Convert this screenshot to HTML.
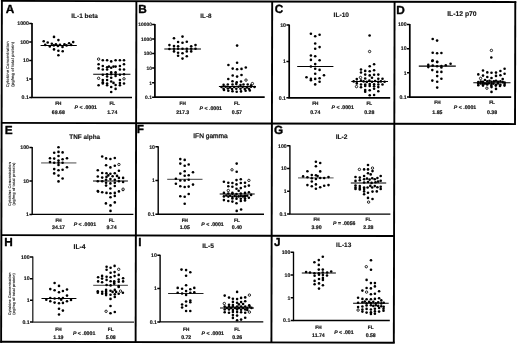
<!DOCTYPE html><html><head><meta charset="utf-8"><title>Cytokine concentration figure</title><style>html,body{margin:0;padding:0;background:#fff;width:520px;height:344px;overflow:hidden}svg{display:block;will-change:transform}text{font-family:"Liberation Sans",sans-serif;font-weight:bold;text-rendering:geometricPrecision}</style></head><body>
<svg width="520" height="344" viewBox="0 0 520 344">
<g transform="rotate(0.13 260 172)" stroke="#000" stroke-linecap="butt">
<line x1="0.55" y1="1.5" x2="515.85" y2="1.5" stroke-width="1.9"/>
<line x1="1.5" y1="0.55" x2="1.5" y2="343.35" stroke-width="1.9"/>
<line x1="0.55" y1="342.4" x2="395.15" y2="342.4" stroke-width="1.9"/>
<line x1="136" y1="1.5" x2="136" y2="342.4" stroke-width="1.9"/>
<line x1="271.8" y1="1.5" x2="271.8" y2="342.4" stroke-width="1.9"/>
<line x1="394.2" y1="1.5" x2="394.2" y2="342.4" stroke-width="1.9"/>
<line x1="514.9" y1="0.55" x2="514.9" y2="124.45" stroke-width="1.9"/>
<line x1="1.5" y1="123.5" x2="514.9" y2="123.5" stroke-width="1.9"/>
<line x1="1.5" y1="235.7" x2="394.2" y2="235.7" stroke-width="1.9"/>
</g>
<g><text x="5.75" y="12.8" font-size="11.8" fill="#000" stroke="#000" stroke-width="0.35" stroke-linejoin="round">A</text><text x="84.6" y="17.7" font-size="6.5" text-anchor="middle" fill="#111" stroke="#111" stroke-width="0.12" stroke-linejoin="round">IL-1 beta</text><path d="M32 23.1V97.5H132" fill="none" stroke="#000" stroke-width="1.7"/><text x="28.8" y="25.45" font-size="5.2" text-anchor="end" fill="#111" stroke="#111" stroke-width="0.15" stroke-linejoin="round">1000</text><text x="28.8" y="43.93" font-size="5.2" text-anchor="end" fill="#111" stroke="#111" stroke-width="0.15" stroke-linejoin="round">100</text><text x="28.8" y="62.4" font-size="5.2" text-anchor="end" fill="#111" stroke="#111" stroke-width="0.15" stroke-linejoin="round">10</text><text x="28.8" y="80.88" font-size="5.2" text-anchor="end" fill="#111" stroke="#111" stroke-width="0.15" stroke-linejoin="round">1</text><text x="28.8" y="99.35" font-size="5.2" text-anchor="end" fill="#111" stroke="#111" stroke-width="0.15" stroke-linejoin="round">0.1</text><path d="M29.2 23.6H32M29.2 42.08H32M29.2 60.55H32M29.2 79.03H32M29.2 97.5H32" stroke="#000" stroke-width="1.5"/><text transform="translate(58.3 104.8) scale(0.95 1)" font-size="4.9" text-anchor="middle" fill="#111" stroke="#111" stroke-width="0.22" stroke-linejoin="round">FH</text><text transform="translate(112.3 104.8) scale(0.95 1)" font-size="4.9" text-anchor="middle" fill="#111" stroke="#111" stroke-width="0.22" stroke-linejoin="round">FL</text><text x="58.3" y="114.1" font-size="5.2" text-anchor="middle" fill="#111" stroke="#111" stroke-width="0.2" stroke-linejoin="round">69.68</text><text x="112.3" y="114.1" font-size="5.2" text-anchor="middle" fill="#111" stroke="#111" stroke-width="0.2" stroke-linejoin="round">1.74</text><text x="85.8" y="109.2" font-size="5.2" text-anchor="middle" fill="#111" stroke="#111" stroke-width="0.2" stroke-linejoin="round"><tspan font-style="italic">P</tspan> &lt; .0001</text><path d="M40.6 45.4H76.8" stroke="#000" stroke-width="1.05"/><path d="M93.2 74.2H130.4" stroke="#000" stroke-width="1.05"/><circle cx="54" cy="36.9" r="1.3"/><circle cx="58.4" cy="40.1" r="1.3"/><circle cx="43.7" cy="41.3" r="1.3"/><circle cx="47.7" cy="42.5" r="1.3"/><circle cx="73.2" cy="42.1" r="1.3"/><circle cx="45.2" cy="44.9" r="1.3"/><circle cx="49.8" cy="46.4" r="1.3"/><circle cx="51.8" cy="43.8" r="1.3"/><circle cx="53.8" cy="45.4" r="1.3"/><circle cx="55.9" cy="44.3" r="1.3"/><circle cx="57.9" cy="45.9" r="1.3"/><circle cx="60" cy="44.9" r="1.3"/><circle cx="62.5" cy="46.9" r="1.3"/><circle cx="64.5" cy="44.3" r="1.3"/><circle cx="66.6" cy="45.4" r="1.3"/><circle cx="69.1" cy="43.3" r="1.3"/><circle cx="71.1" cy="44.9" r="1.3"/><circle cx="54" cy="49.4" r="1.3"/><circle cx="58.4" cy="50.7" r="1.3"/><circle cx="62.7" cy="51.3" r="1.3"/><circle cx="58.4" cy="55.3" r="1.3"/><circle cx="102.8" cy="60.2" r="1.3"/><circle cx="107.1" cy="60.2" r="1.3"/><circle cx="115.6" cy="60.2" r="1.3"/><circle cx="119.9" cy="60.2" r="1.3"/><circle cx="124" cy="60.2" r="1.3"/><circle cx="111.2" cy="61.4" r="1.3"/><circle cx="98.6" cy="64.3" r="1.3"/><circle cx="124" cy="64.3" r="1.3"/><circle cx="102.8" cy="66" r="1.3"/><circle cx="119.9" cy="66" r="1.3"/><circle cx="107.1" cy="67.2" r="1.3"/><circle cx="108.9" cy="66.6" r="1.3"/><circle cx="111.2" cy="67.8" r="1.3"/><circle cx="113.5" cy="66.6" r="1.3"/><circle cx="115.6" cy="66.6" r="1.3"/><circle cx="98.6" cy="68.4" r="1.3"/><circle cx="102.8" cy="69.5" r="1.3"/><circle cx="107.1" cy="69.5" r="1.3"/><circle cx="119.9" cy="69.5" r="1.3"/><circle cx="124" cy="69.5" r="1.3"/><circle cx="111.2" cy="72.4" r="1.3"/><circle cx="115.6" cy="72.2" r="1.3"/><circle cx="102.8" cy="74.8" r="1.3"/><circle cx="107.1" cy="74.2" r="1.3"/><circle cx="111.2" cy="74.2" r="1.3"/><circle cx="115.6" cy="74.2" r="1.3"/><circle cx="119.9" cy="74.8" r="1.3"/><circle cx="124" cy="74.2" r="1.3"/><circle cx="107.1" cy="76.5" r="1.3"/><circle cx="115.6" cy="76" r="1.3"/><circle cx="111.2" cy="77.7" r="1.3"/><circle cx="102.8" cy="80" r="1.3"/><circle cx="107.1" cy="80" r="1.3"/><circle cx="119.9" cy="80" r="1.3"/><circle cx="102.8" cy="82.3" r="1.3"/><circle cx="111.2" cy="81.5" r="1.3"/><circle cx="113.5" cy="82.9" r="1.3"/><circle cx="102.8" cy="83.5" r="1.3"/><circle cx="107.1" cy="83.5" r="1.3"/><circle cx="119.9" cy="83" r="1.3"/><circle cx="124" cy="83.5" r="1.3"/><circle cx="98.6" cy="85.2" r="1.3"/><circle cx="107.1" cy="85.2" r="1.3"/><circle cx="115.6" cy="85" r="1.3"/><circle cx="119.9" cy="85.2" r="1.3"/><circle cx="111.2" cy="87" r="1.3"/><circle cx="115.6" cy="88.9" r="1.3"/><circle cx="111.2" cy="92" r="1.3"/><circle cx="98.6" cy="59.1" r="1.2" fill="#fff" stroke="#000" stroke-width="0.85"/><circle cx="98.6" cy="78.3" r="1.2" fill="#fff" stroke="#000" stroke-width="0.85"/><circle cx="124" cy="78.8" r="1.2" fill="#fff" stroke="#000" stroke-width="0.85"/><text transform="translate(9.2 64.25) rotate(-90)" font-size="4.1" text-anchor="middle" fill="#333" stroke="#333" stroke-width="0.06"><tspan x="0" y="0">Cytokine Concentration</tspan><tspan x="0" y="4.8">(pg/mg of total protein)</tspan></text></g>
<g><text x="138.16" y="13.2" font-size="11.8" fill="#000" stroke="#000" stroke-width="0.35" stroke-linejoin="round">B</text><text x="205.9" y="18.2" font-size="6.3" text-anchor="middle" fill="#111" stroke="#111" stroke-width="0.12" stroke-linejoin="round">IL-8</text><path d="M154.9 24V97.2H264.7" fill="none" stroke="#000" stroke-width="1.7"/><text x="151.9" y="26.35" font-size="4.9" text-anchor="end" fill="#111" stroke="#111" stroke-width="0.15" stroke-linejoin="round">10000</text><text x="151.9" y="40.89" font-size="4.9" text-anchor="end" fill="#111" stroke="#111" stroke-width="0.15" stroke-linejoin="round">1000</text><text x="151.9" y="55.43" font-size="4.9" text-anchor="end" fill="#111" stroke="#111" stroke-width="0.15" stroke-linejoin="round">100</text><text x="151.9" y="69.97" font-size="4.9" text-anchor="end" fill="#111" stroke="#111" stroke-width="0.15" stroke-linejoin="round">10</text><text x="151.9" y="84.51" font-size="4.9" text-anchor="end" fill="#111" stroke="#111" stroke-width="0.15" stroke-linejoin="round">1</text><text x="151.9" y="99.05" font-size="4.9" text-anchor="end" fill="#111" stroke="#111" stroke-width="0.15" stroke-linejoin="round">0.1</text><path d="M152.1 24.5H154.9M152.1 39.04H154.9M152.1 53.58H154.9M152.1 68.12H154.9M152.1 82.66H154.9M152.1 97.2H154.9" stroke="#000" stroke-width="1.5"/><text transform="translate(182.7 104.8) scale(0.95 1)" font-size="4.9" text-anchor="middle" fill="#111" stroke="#111" stroke-width="0.22" stroke-linejoin="round">FH</text><text transform="translate(236.9 104.8) scale(0.95 1)" font-size="4.9" text-anchor="middle" fill="#111" stroke="#111" stroke-width="0.22" stroke-linejoin="round">FL</text><text x="182.7" y="114.1" font-size="5.2" text-anchor="middle" fill="#111" stroke="#111" stroke-width="0.2" stroke-linejoin="round">217.3</text><text x="236.9" y="114.1" font-size="5.2" text-anchor="middle" fill="#111" stroke="#111" stroke-width="0.2" stroke-linejoin="round">0.57</text><text x="210.8" y="109.5" font-size="5.2" text-anchor="middle" fill="#111" stroke="#111" stroke-width="0.2" stroke-linejoin="round"><tspan font-style="italic">P</tspan> &lt; .0001</text><path d="M164.3 48.9H201" stroke="#000" stroke-width="1.05"/><path d="M218.9 86.4H256" stroke="#000" stroke-width="1.05"/><circle cx="174" cy="38.3" r="1.3"/><circle cx="182.5" cy="36.6" r="1.3"/><circle cx="178.1" cy="42" r="1.3"/><circle cx="182.5" cy="42.7" r="1.3"/><circle cx="186.8" cy="41.7" r="1.3"/><circle cx="169.4" cy="45.1" r="1.3"/><circle cx="174" cy="46" r="1.3"/><circle cx="178.1" cy="46.3" r="1.3"/><circle cx="191.2" cy="46.3" r="1.3"/><circle cx="195.5" cy="45.1" r="1.3"/><circle cx="169.4" cy="49" r="1.3"/><circle cx="174" cy="48.8" r="1.3"/><circle cx="178.1" cy="48.8" r="1.3"/><circle cx="182.5" cy="48.8" r="1.3"/><circle cx="186.8" cy="48.8" r="1.3"/><circle cx="191.2" cy="48.8" r="1.3"/><circle cx="195.5" cy="48.8" r="1.3"/><circle cx="174" cy="51.4" r="1.3"/><circle cx="178.1" cy="52.8" r="1.3"/><circle cx="182.5" cy="53.3" r="1.3"/><circle cx="186.8" cy="51.4" r="1.3"/><circle cx="191.2" cy="51.4" r="1.3"/><circle cx="178.1" cy="55.7" r="1.3"/><circle cx="186.8" cy="56.2" r="1.3"/><circle cx="182.5" cy="58.6" r="1.3"/><circle cx="237.1" cy="45.6" r="1.3"/><circle cx="237.1" cy="62.8" r="1.3"/><circle cx="228.4" cy="65" r="1.3"/><circle cx="245.8" cy="67.5" r="1.3"/><circle cx="232.7" cy="68.6" r="1.3"/><circle cx="237.1" cy="69.2" r="1.3"/><circle cx="241.5" cy="68.9" r="1.3"/><circle cx="232.7" cy="75.5" r="1.3"/><circle cx="237.1" cy="76.6" r="1.3"/><circle cx="241.5" cy="75" r="1.3"/><circle cx="228.3" cy="79" r="1.3"/><circle cx="232.5" cy="81.2" r="1.3"/><circle cx="236.7" cy="82.3" r="1.3"/><circle cx="241" cy="81.5" r="1.3"/><circle cx="223.6" cy="84.9" r="1.3"/><circle cx="227.8" cy="84.5" r="1.3"/><circle cx="232.5" cy="84.5" r="1.3"/><circle cx="236.3" cy="84.1" r="1.3"/><circle cx="240.5" cy="85.1" r="1.3"/><circle cx="243.5" cy="84.5" r="1.3"/><circle cx="247.7" cy="84.5" r="1.3"/><circle cx="251.1" cy="85.3" r="1.3"/><circle cx="221.5" cy="87" r="1.3"/><circle cx="225.7" cy="86.8" r="1.3"/><circle cx="230" cy="87.4" r="1.3"/><circle cx="234.2" cy="87" r="1.3"/><circle cx="238.4" cy="86.8" r="1.3"/><circle cx="242.6" cy="87" r="1.3"/><circle cx="246.9" cy="87.4" r="1.3"/><circle cx="251.1" cy="86.8" r="1.3"/><circle cx="254.5" cy="87" r="1.3"/><circle cx="223.6" cy="88.7" r="1.3"/><circle cx="227.8" cy="88.5" r="1.3"/><circle cx="232.1" cy="89.1" r="1.3"/><circle cx="236.3" cy="88.7" r="1.3"/><circle cx="240.5" cy="88.7" r="1.3"/><circle cx="244.8" cy="88.9" r="1.3"/><circle cx="249" cy="88.7" r="1.3"/><circle cx="224" cy="90" r="1.3"/><circle cx="228.3" cy="90.8" r="1.3"/><circle cx="232.5" cy="91.2" r="1.3"/><circle cx="236.7" cy="91.7" r="1.3"/><circle cx="241" cy="91.4" r="1.3"/><circle cx="245.6" cy="90.8" r="1.3"/><circle cx="249.8" cy="90.4" r="1.3"/><circle cx="246" cy="80.1" r="1.2" fill="#fff" stroke="#000" stroke-width="0.85"/><circle cx="252.4" cy="83.6" r="1.2" fill="#fff" stroke="#000" stroke-width="0.85"/></g>
<g><text x="274.67" y="12.8" font-size="11.8" fill="#000" stroke="#000" stroke-width="0.35" stroke-linejoin="round">C</text><text x="341.3" y="17.1" font-size="6.6" text-anchor="middle" fill="#111" stroke="#111" stroke-width="0.12" stroke-linejoin="round">IL-10</text><path d="M289.2 24.5V97.8H390.2" fill="none" stroke="#000" stroke-width="1.7"/><text x="286" y="26.85" font-size="5.2" text-anchor="end" fill="#111" stroke="#111" stroke-width="0.15" stroke-linejoin="round">10</text><text x="286" y="63.25" font-size="5.2" text-anchor="end" fill="#111" stroke="#111" stroke-width="0.15" stroke-linejoin="round">1</text><text x="286" y="99.65" font-size="5.2" text-anchor="end" fill="#111" stroke="#111" stroke-width="0.15" stroke-linejoin="round">0.1</text><path d="M286.4 25H289.2M286.4 61.4H289.2M286.4 97.8H289.2" stroke="#000" stroke-width="1.5"/><text transform="translate(315.3 104.8) scale(0.95 1)" font-size="4.9" text-anchor="middle" fill="#111" stroke="#111" stroke-width="0.22" stroke-linejoin="round">FH</text><text transform="translate(369.3 104.8) scale(0.95 1)" font-size="4.9" text-anchor="middle" fill="#111" stroke="#111" stroke-width="0.22" stroke-linejoin="round">FL</text><text x="315.3" y="114.1" font-size="5.2" text-anchor="middle" fill="#111" stroke="#111" stroke-width="0.2" stroke-linejoin="round">0.74</text><text x="369.3" y="114.1" font-size="5.2" text-anchor="middle" fill="#111" stroke="#111" stroke-width="0.2" stroke-linejoin="round">0.28</text><text x="342.7" y="109.2" font-size="5.2" text-anchor="middle" fill="#111" stroke="#111" stroke-width="0.2" stroke-linejoin="round"><tspan font-style="italic">P</tspan> &lt; .0001</text><path d="M297.2 66.4H333.4" stroke="#000" stroke-width="1.05"/><path d="M351.3 81.4H388" stroke="#000" stroke-width="1.05"/><circle cx="310.9" cy="33.7" r="1.3"/><circle cx="315.2" cy="36.3" r="1.3"/><circle cx="319.6" cy="34.7" r="1.3"/><circle cx="315.2" cy="43.5" r="1.3"/><circle cx="315.2" cy="48.7" r="1.3"/><circle cx="319.6" cy="47.1" r="1.3"/><circle cx="310.9" cy="55.5" r="1.3"/><circle cx="315.2" cy="56.3" r="1.3"/><circle cx="310.9" cy="59.9" r="1.3"/><circle cx="319.6" cy="60.2" r="1.3"/><circle cx="315.2" cy="64.1" r="1.3"/><circle cx="310.9" cy="66.5" r="1.3"/><circle cx="315.2" cy="68.7" r="1.3"/><circle cx="319.6" cy="69.9" r="1.3"/><circle cx="315.2" cy="73.8" r="1.3"/><circle cx="324" cy="75.3" r="1.3"/><circle cx="306.5" cy="77.2" r="1.3"/><circle cx="310.9" cy="78.9" r="1.3"/><circle cx="310.9" cy="80.3" r="1.3"/><circle cx="315.2" cy="78.9" r="1.3"/><circle cx="319.6" cy="78.2" r="1.3"/><circle cx="319.6" cy="81.8" r="1.3"/><circle cx="315.2" cy="84.4" r="1.3"/><circle cx="369.6" cy="35.5" r="1.3"/><circle cx="374.1" cy="64.3" r="1.3"/><circle cx="369.7" cy="66.2" r="1.3"/><circle cx="361" cy="69.5" r="1.3"/><circle cx="361" cy="72.5" r="1.3"/><circle cx="365.2" cy="70.9" r="1.3"/><circle cx="369.7" cy="71.2" r="1.3"/><circle cx="374.1" cy="70.2" r="1.3"/><circle cx="365.2" cy="74.6" r="1.3"/><circle cx="369.7" cy="75.4" r="1.3"/><circle cx="374.1" cy="74.8" r="1.3"/><circle cx="378.3" cy="74.6" r="1.3"/><circle cx="356.8" cy="79" r="1.3"/><circle cx="365.2" cy="78.5" r="1.3"/><circle cx="372" cy="77.7" r="1.3"/><circle cx="378.3" cy="78.8" r="1.3"/><circle cx="382.5" cy="78.8" r="1.3"/><circle cx="353.7" cy="81.4" r="1.3"/><circle cx="356.8" cy="81.7" r="1.3"/><circle cx="361" cy="80.6" r="1.3"/><circle cx="363.6" cy="81.4" r="1.3"/><circle cx="366.8" cy="81.9" r="1.3"/><circle cx="369.4" cy="80.6" r="1.3"/><circle cx="372" cy="81.7" r="1.3"/><circle cx="375.1" cy="81" r="1.3"/><circle cx="378.3" cy="81.9" r="1.3"/><circle cx="380.9" cy="81.4" r="1.3"/><circle cx="384.6" cy="81.7" r="1.3"/><circle cx="356.8" cy="83.5" r="1.3"/><circle cx="361" cy="84.5" r="1.3"/><circle cx="365.2" cy="84.5" r="1.3"/><circle cx="369.7" cy="84" r="1.3"/><circle cx="374.1" cy="84.2" r="1.3"/><circle cx="378.3" cy="84.5" r="1.3"/><circle cx="382.5" cy="84.5" r="1.3"/><circle cx="361" cy="87.3" r="1.3"/><circle cx="365.2" cy="85.9" r="1.3"/><circle cx="369.7" cy="85.9" r="1.3"/><circle cx="374.1" cy="86.3" r="1.3"/><circle cx="378.3" cy="87.1" r="1.3"/><circle cx="365.2" cy="90.1" r="1.3"/><circle cx="365.2" cy="91.8" r="1.3"/><circle cx="369.7" cy="90.3" r="1.3"/><circle cx="374.1" cy="88.7" r="1.3"/><circle cx="378.3" cy="91.3" r="1.3"/><circle cx="369.7" cy="95.3" r="1.3"/><circle cx="374.1" cy="95" r="1.3"/><circle cx="369.6" cy="51.5" r="1.2" fill="#fff" stroke="#000" stroke-width="0.85"/><circle cx="360.5" cy="77.5" r="1.2" fill="#fff" stroke="#000" stroke-width="0.85"/><circle cx="356.5" cy="86.6" r="1.2" fill="#fff" stroke="#000" stroke-width="0.85"/></g>
<g><text x="396.36" y="13.5" font-size="11.8" fill="#000" stroke="#000" stroke-width="0.35" stroke-linejoin="round">D</text><text x="461.9" y="16" font-size="6.8" text-anchor="middle" fill="#111" stroke="#111" stroke-width="0.12" stroke-linejoin="round">IL-12 p70</text><path d="M409.8 23.9V97.1H511.2" fill="none" stroke="#000" stroke-width="1.7"/><text x="406.6" y="26.25" font-size="5.2" text-anchor="end" fill="#111" stroke="#111" stroke-width="0.15" stroke-linejoin="round">100</text><text x="406.6" y="50.48" font-size="5.2" text-anchor="end" fill="#111" stroke="#111" stroke-width="0.15" stroke-linejoin="round">10</text><text x="406.6" y="74.72" font-size="5.2" text-anchor="end" fill="#111" stroke="#111" stroke-width="0.15" stroke-linejoin="round">1</text><text x="406.6" y="98.95" font-size="5.2" text-anchor="end" fill="#111" stroke="#111" stroke-width="0.15" stroke-linejoin="round">0.1</text><path d="M407 24.4H409.8M407 48.63H409.8M407 72.87H409.8M407 97.1H409.8" stroke="#000" stroke-width="1.5"/><text transform="translate(437.4 104.3) scale(0.95 1)" font-size="4.9" text-anchor="middle" fill="#111" stroke="#111" stroke-width="0.22" stroke-linejoin="round">FH</text><text transform="translate(492 104.3) scale(0.95 1)" font-size="4.9" text-anchor="middle" fill="#111" stroke="#111" stroke-width="0.22" stroke-linejoin="round">FL</text><text x="437.4" y="113.5" font-size="5.2" text-anchor="middle" fill="#111" stroke="#111" stroke-width="0.2" stroke-linejoin="round">1.85</text><text x="492" y="113.5" font-size="5.2" text-anchor="middle" fill="#111" stroke="#111" stroke-width="0.2" stroke-linejoin="round">0.38</text><text x="465" y="108.8" font-size="5.2" text-anchor="middle" fill="#111" stroke="#111" stroke-width="0.2" stroke-linejoin="round"><tspan font-style="italic">P</tspan> &lt; .0001</text><path d="M418.8 66.1H455.8" stroke="#000" stroke-width="1.05"/><path d="M473.3 82.8H510.5" stroke="#000" stroke-width="1.05"/><circle cx="432.7" cy="39" r="1.3"/><circle cx="437.1" cy="40.6" r="1.3"/><circle cx="432.7" cy="52.8" r="1.3"/><circle cx="437.1" cy="53.3" r="1.3"/><circle cx="441.4" cy="53" r="1.3"/><circle cx="432.7" cy="60.5" r="1.3"/><circle cx="437.1" cy="61.7" r="1.3"/><circle cx="432.3" cy="60.9" r="1.3"/><circle cx="437.2" cy="62.1" r="1.3"/><circle cx="428.3" cy="64.9" r="1.3"/><circle cx="428.3" cy="67.1" r="1.3"/><circle cx="432.7" cy="65.6" r="1.3"/><circle cx="437.1" cy="66.3" r="1.3"/><circle cx="441.4" cy="66" r="1.3"/><circle cx="441.4" cy="67.5" r="1.3"/><circle cx="445.8" cy="65.2" r="1.3"/><circle cx="450.6" cy="63.8" r="1.3"/><circle cx="432.3" cy="70.1" r="1.3"/><circle cx="437.2" cy="71.9" r="1.3"/><circle cx="441.4" cy="71.9" r="1.3"/><circle cx="437.2" cy="76.1" r="1.3"/><circle cx="441.4" cy="78.8" r="1.3"/><circle cx="432.3" cy="80.6" r="1.3"/><circle cx="437.2" cy="81.8" r="1.3"/><circle cx="437.2" cy="87.6" r="1.3"/><circle cx="491.3" cy="57.5" r="1.3"/><circle cx="504.6" cy="68.7" r="1.3"/><circle cx="483" cy="70.5" r="1.3"/><circle cx="487.3" cy="72.4" r="1.3"/><circle cx="491.5" cy="72.8" r="1.3"/><circle cx="496" cy="72.6" r="1.3"/><circle cx="500.4" cy="71" r="1.3"/><circle cx="478.3" cy="74.4" r="1.3"/><circle cx="483" cy="75.6" r="1.3"/><circle cx="487.3" cy="77" r="1.3"/><circle cx="491.5" cy="78" r="1.3"/><circle cx="496" cy="75.9" r="1.3"/><circle cx="500.4" cy="75.3" r="1.3"/><circle cx="504.6" cy="73.8" r="1.3"/><circle cx="485" cy="80" r="1.3"/><circle cx="502.7" cy="79.1" r="1.3"/><circle cx="478.3" cy="82.1" r="1.3"/><circle cx="480.8" cy="81.5" r="1.3"/><circle cx="483" cy="81.9" r="1.3"/><circle cx="487.3" cy="81.2" r="1.3"/><circle cx="489.5" cy="80.7" r="1.3"/><circle cx="491.5" cy="81.7" r="1.3"/><circle cx="493.9" cy="81.2" r="1.3"/><circle cx="496" cy="80.7" r="1.3"/><circle cx="498" cy="81.9" r="1.3"/><circle cx="500.4" cy="81.2" r="1.3"/><circle cx="502.7" cy="82.1" r="1.3"/><circle cx="504.6" cy="82.6" r="1.3"/><circle cx="478.3" cy="85.2" r="1.3"/><circle cx="483" cy="85.6" r="1.3"/><circle cx="487.3" cy="84.5" r="1.3"/><circle cx="491.5" cy="84" r="1.3"/><circle cx="496" cy="84.9" r="1.3"/><circle cx="500.4" cy="84.7" r="1.3"/><circle cx="504.6" cy="84" r="1.3"/><circle cx="480.5" cy="83.4" r="1.3"/><circle cx="484.8" cy="83.6" r="1.3"/><circle cx="489" cy="83.2" r="1.3"/><circle cx="493.5" cy="83.6" r="1.3"/><circle cx="498" cy="83.4" r="1.3"/><circle cx="478.2" cy="83.6" r="1.3"/><circle cx="482.7" cy="83.9" r="1.3"/><circle cx="486.8" cy="83.9" r="1.3"/><circle cx="491.3" cy="85.6" r="1.3"/><circle cx="495.8" cy="85.6" r="1.3"/><circle cx="500" cy="85.9" r="1.3"/><circle cx="504.5" cy="85.6" r="1.3"/><circle cx="491.5" cy="87.1" r="1.3"/><circle cx="496" cy="88.9" r="1.3"/><circle cx="491.5" cy="91.9" r="1.3"/><circle cx="491.4" cy="50.4" r="1.2" fill="#fff" stroke="#000" stroke-width="0.85"/><circle cx="480.6" cy="78.4" r="1.2" fill="#fff" stroke="#000" stroke-width="0.85"/><circle cx="486.9" cy="88.2" r="1.2" fill="#fff" stroke="#000" stroke-width="0.85"/></g>
<g><text x="4.66" y="133.6" font-size="11.8" fill="#000" stroke="#000" stroke-width="0.35" stroke-linejoin="round">E</text><text x="84.7" y="139.4" font-size="6.4" text-anchor="middle" fill="#111" stroke="#111" stroke-width="0.12" stroke-linejoin="round">TNF alpha</text><path d="M32.2 147.1V214.4H133.4" fill="none" stroke="#000" stroke-width="1.4"/><text x="29" y="149.45" font-size="5.2" text-anchor="end" fill="#111" stroke="#111" stroke-width="0.15" stroke-linejoin="round">100</text><text x="29" y="182.85" font-size="5.2" text-anchor="end" fill="#111" stroke="#111" stroke-width="0.15" stroke-linejoin="round">10</text><text x="29" y="216.25" font-size="5.2" text-anchor="end" fill="#111" stroke="#111" stroke-width="0.15" stroke-linejoin="round">1</text><path d="M29.4 147.6H32.2M29.4 181H32.2M29.4 214.4H32.2" stroke="#000" stroke-width="1.5"/><text transform="translate(58.5 221.7) scale(0.95 1)" font-size="4.9" text-anchor="middle" fill="#111" stroke="#111" stroke-width="0.22" stroke-linejoin="round">FH</text><text transform="translate(111.6 221.7) scale(0.95 1)" font-size="4.9" text-anchor="middle" fill="#111" stroke="#111" stroke-width="0.22" stroke-linejoin="round">FL</text><text x="58.5" y="229" font-size="5.2" text-anchor="middle" fill="#111" stroke="#111" stroke-width="0.2" stroke-linejoin="round">34.17</text><text x="111.6" y="229" font-size="5.2" text-anchor="middle" fill="#111" stroke="#111" stroke-width="0.2" stroke-linejoin="round">9.74</text><text x="84.9" y="226.4" font-size="5.2" text-anchor="middle" fill="#111" stroke="#111" stroke-width="0.2" stroke-linejoin="round"><tspan font-style="italic">P</tspan> &lt; .0001</text><path d="M41.1 162.9H76.4" stroke="#999" stroke-width="1.6"/><path d="M93 181H127.9" stroke="#000" stroke-width="1.05"/><circle cx="58.5" cy="147.3" r="1.3"/><circle cx="54.2" cy="152.8" r="1.3"/><circle cx="58.5" cy="151.9" r="1.3"/><circle cx="62.6" cy="152.4" r="1.3"/><circle cx="58.5" cy="156" r="1.3"/><circle cx="50" cy="158.2" r="1.3"/><circle cx="54.2" cy="158.6" r="1.3"/><circle cx="62.6" cy="159.2" r="1.3"/><circle cx="67" cy="158.2" r="1.3"/><circle cx="50" cy="162.1" r="1.3"/><circle cx="54.2" cy="162.8" r="1.3"/><circle cx="58.5" cy="160.6" r="1.3"/><circle cx="58.5" cy="162.8" r="1.3"/><circle cx="62.6" cy="162.8" r="1.3"/><circle cx="58.5" cy="165" r="1.3"/><circle cx="67" cy="167.3" r="1.3"/><circle cx="54.2" cy="169.1" r="1.3"/><circle cx="58.5" cy="170.2" r="1.3"/><circle cx="62.6" cy="169.8" r="1.3"/><circle cx="54.2" cy="173.4" r="1.3"/><circle cx="58.5" cy="175.6" r="1.3"/><circle cx="62.6" cy="178.5" r="1.3"/><circle cx="58.5" cy="181.4" r="1.3"/><circle cx="102.2" cy="156.5" r="1.3"/><circle cx="106.1" cy="158.4" r="1.3"/><circle cx="110.4" cy="159" r="1.3"/><circle cx="114.8" cy="158" r="1.3"/><circle cx="106.1" cy="165.3" r="1.3"/><circle cx="110.4" cy="167.4" r="1.3"/><circle cx="114.8" cy="165.7" r="1.3"/><circle cx="97.8" cy="170.3" r="1.3"/><circle cx="102.2" cy="173" r="1.3"/><circle cx="106.5" cy="173.3" r="1.3"/><circle cx="110.4" cy="173.7" r="1.3"/><circle cx="114.8" cy="173.3" r="1.3"/><circle cx="118.9" cy="170.8" r="1.3"/><circle cx="97.8" cy="176.5" r="1.3"/><circle cx="102.2" cy="177.6" r="1.3"/><circle cx="106.5" cy="176.9" r="1.3"/><circle cx="108.3" cy="175.4" r="1.3"/><circle cx="112.6" cy="176.2" r="1.3"/><circle cx="117" cy="175.9" r="1.3"/><circle cx="118.9" cy="177.9" r="1.3"/><circle cx="123.1" cy="177.9" r="1.3"/><circle cx="97.8" cy="181.2" r="1.3"/><circle cx="102.2" cy="181.2" r="1.3"/><circle cx="106.1" cy="179.8" r="1.3"/><circle cx="110.4" cy="179.1" r="1.3"/><circle cx="114.8" cy="179.8" r="1.3"/><circle cx="118.9" cy="181.2" r="1.3"/><circle cx="123.1" cy="182" r="1.3"/><circle cx="106.1" cy="182.7" r="1.3"/><circle cx="110.4" cy="183.4" r="1.3"/><circle cx="114.8" cy="182.7" r="1.3"/><circle cx="106.1" cy="185.6" r="1.3"/><circle cx="110.4" cy="188.5" r="1.3"/><circle cx="114.8" cy="186" r="1.3"/><circle cx="97.8" cy="191" r="1.3"/><circle cx="102.2" cy="192.2" r="1.3"/><circle cx="106.5" cy="192.9" r="1.3"/><circle cx="110.4" cy="193.3" r="1.3"/><circle cx="114.8" cy="192.9" r="1.3"/><circle cx="118.9" cy="191.4" r="1.3"/><circle cx="123" cy="190" r="1.3"/><circle cx="98.1" cy="191.6" r="1.3"/><circle cx="114.8" cy="195.9" r="1.3"/><circle cx="110.5" cy="197.2" r="1.3"/><circle cx="105.9" cy="203.4" r="1.3"/><circle cx="110.5" cy="205.4" r="1.3"/><circle cx="114.8" cy="202.4" r="1.3"/><circle cx="110.5" cy="210.9" r="1.3"/><circle cx="118.9" cy="164.5" r="1.2" fill="#fff" stroke="#000" stroke-width="0.85"/><circle cx="123.1" cy="189.2" r="1.2" fill="#fff" stroke="#000" stroke-width="0.85"/><text transform="translate(10.9 184.1) rotate(-90)" font-size="3.9" text-anchor="middle" fill="#333" stroke="#333" stroke-width="0.06"><tspan x="0" y="0">Cytokine Concentration</tspan><tspan x="0" y="4.56">(pg/mg of total protein)</tspan></text></g>
<g><text x="136.86" y="133.3" font-size="11.8" fill="#000" stroke="#000" stroke-width="0.35" stroke-linejoin="round">F</text><text x="210.5" y="138.4" font-size="6.6" text-anchor="middle" fill="#111" stroke="#111" stroke-width="0.3" stroke-linejoin="round"><tspan font-weight="normal">IFN gamma</tspan></text><path d="M158.2 146.2V214.3H264" fill="none" stroke="#000" stroke-width="1.4"/><text x="155" y="148.55" font-size="5.2" text-anchor="end" fill="#111" stroke="#111" stroke-width="0.15" stroke-linejoin="round">10</text><text x="155" y="182.35" font-size="5.2" text-anchor="end" fill="#111" stroke="#111" stroke-width="0.15" stroke-linejoin="round">1</text><text x="155" y="216.15" font-size="5.2" text-anchor="end" fill="#111" stroke="#111" stroke-width="0.15" stroke-linejoin="round">0.1</text><path d="M155.4 146.7H158.2M155.4 180.5H158.2M155.4 214.3H158.2" stroke="#000" stroke-width="1.5"/><text transform="translate(184.8 221.5) scale(0.95 1)" font-size="4.9" text-anchor="middle" fill="#111" stroke="#111" stroke-width="0.22" stroke-linejoin="round">FH</text><text transform="translate(236.9 221.5) scale(0.95 1)" font-size="4.9" text-anchor="middle" fill="#111" stroke="#111" stroke-width="0.22" stroke-linejoin="round">FL</text><text x="184.8" y="229.2" font-size="5.2" text-anchor="middle" fill="#111" stroke="#111" stroke-width="0.2" stroke-linejoin="round">1.05</text><text x="236.9" y="229.2" font-size="5.2" text-anchor="middle" fill="#111" stroke="#111" stroke-width="0.2" stroke-linejoin="round">0.40</text><text x="212.5" y="226" font-size="5.2" text-anchor="middle" fill="#111" stroke="#111" stroke-width="0.2" stroke-linejoin="round"><tspan font-style="italic">P</tspan> &lt; .0001</text><path d="M167.2 179.3H202.5" stroke="#666" stroke-width="1.3"/><path d="M219.7 193.9H254.7" stroke="#000" stroke-width="1.05"/><circle cx="180.3" cy="159.1" r="1.3"/><circle cx="184.7" cy="159.9" r="1.3"/><circle cx="180.3" cy="163.6" r="1.3"/><circle cx="184.7" cy="165.7" r="1.3"/><circle cx="188.7" cy="164.5" r="1.3"/><circle cx="184.7" cy="171.3" r="1.3"/><circle cx="193" cy="172.3" r="1.3"/><circle cx="180.3" cy="173.6" r="1.3"/><circle cx="184.7" cy="175.8" r="1.3"/><circle cx="188.7" cy="175.3" r="1.3"/><circle cx="175.9" cy="178.8" r="1.3"/><circle cx="180.3" cy="180.5" r="1.3"/><circle cx="184.7" cy="180.5" r="1.3"/><circle cx="188.7" cy="179.7" r="1.3"/><circle cx="175.9" cy="183.7" r="1.3"/><circle cx="193" cy="184.6" r="1.3"/><circle cx="180.3" cy="186.3" r="1.3"/><circle cx="184.7" cy="187" r="1.3"/><circle cx="188.7" cy="186.6" r="1.3"/><circle cx="180.3" cy="196.2" r="1.3"/><circle cx="184.7" cy="196.8" r="1.3"/><circle cx="188.7" cy="194" r="1.3"/><circle cx="184.7" cy="203.8" r="1.3"/><circle cx="236.7" cy="163.6" r="1.3"/><circle cx="236.7" cy="171.7" r="1.3"/><circle cx="236.5" cy="180.1" r="1.3"/><circle cx="240.8" cy="179.2" r="1.3"/><circle cx="223.9" cy="181.8" r="1.3"/><circle cx="228.3" cy="182.7" r="1.3"/><circle cx="232.4" cy="183" r="1.3"/><circle cx="240.8" cy="183" r="1.3"/><circle cx="245" cy="182.7" r="1.3"/><circle cx="236.5" cy="184.4" r="1.3"/><circle cx="228.3" cy="186.2" r="1.3"/><circle cx="232.4" cy="186.8" r="1.3"/><circle cx="245" cy="186.5" r="1.3"/><circle cx="248.9" cy="185.6" r="1.3"/><circle cx="236.5" cy="188.8" r="1.3"/><circle cx="238.7" cy="190.7" r="1.3"/><circle cx="240.8" cy="188.1" r="1.3"/><circle cx="223.9" cy="192.9" r="1.3"/><circle cx="228.3" cy="193.5" r="1.3"/><circle cx="232.4" cy="192.9" r="1.3"/><circle cx="232.4" cy="193.8" r="1.3"/><circle cx="236.5" cy="194" r="1.3"/><circle cx="240.8" cy="193.5" r="1.3"/><circle cx="245" cy="192.9" r="1.3"/><circle cx="248.9" cy="192.3" r="1.3"/><circle cx="223.9" cy="196.4" r="1.3"/><circle cx="226.3" cy="195.5" r="1.3"/><circle cx="228.3" cy="196.6" r="1.3"/><circle cx="230.2" cy="195.7" r="1.3"/><circle cx="232.4" cy="196.8" r="1.3"/><circle cx="234.6" cy="195.9" r="1.3"/><circle cx="236.5" cy="196.6" r="1.3"/><circle cx="238.7" cy="196.4" r="1.3"/><circle cx="240.8" cy="195.9" r="1.3"/><circle cx="243" cy="196.4" r="1.3"/><circle cx="245" cy="195.9" r="1.3"/><circle cx="247.2" cy="195.7" r="1.3"/><circle cx="251.1" cy="194.9" r="1.3"/><circle cx="232.4" cy="198.4" r="1.3"/><circle cx="236.5" cy="198.7" r="1.3"/><circle cx="240.8" cy="198.7" r="1.3"/><circle cx="245" cy="198.4" r="1.3"/><circle cx="248.9" cy="197.8" r="1.3"/><circle cx="223.9" cy="200.1" r="1.3"/><circle cx="228.3" cy="201" r="1.3"/><circle cx="232.4" cy="201.6" r="1.3"/><circle cx="240.8" cy="201" r="1.3"/><circle cx="245" cy="200.4" r="1.3"/><circle cx="236.5" cy="203.3" r="1.3"/><circle cx="236.7" cy="210.9" r="1.3"/><circle cx="241.1" cy="209.5" r="1.3"/><circle cx="232" cy="169.8" r="1.2" fill="#fff" stroke="#000" stroke-width="0.85"/><circle cx="248.9" cy="180.4" r="1.2" fill="#fff" stroke="#000" stroke-width="0.85"/><circle cx="228.3" cy="190.5" r="1.2" fill="#fff" stroke="#000" stroke-width="0.85"/></g>
<g><text x="274.07" y="133.6" font-size="11.8" fill="#000" stroke="#000" stroke-width="0.35" stroke-linejoin="round">G</text><text x="341.6" y="139.1" font-size="6.7" text-anchor="middle" fill="#111" stroke="#111" stroke-width="0.12" stroke-linejoin="round">IL-2</text><path d="M289.9 145.2V214.1H390.4" fill="none" stroke="#000" stroke-width="1.4"/><text x="286.7" y="147.55" font-size="5.2" text-anchor="end" fill="#111" stroke="#111" stroke-width="0.15" stroke-linejoin="round">100</text><text x="286.7" y="170.35" font-size="5.2" text-anchor="end" fill="#111" stroke="#111" stroke-width="0.15" stroke-linejoin="round">10</text><text x="286.7" y="193.15" font-size="5.2" text-anchor="end" fill="#111" stroke="#111" stroke-width="0.15" stroke-linejoin="round">1</text><text x="286.7" y="215.95" font-size="5.2" text-anchor="end" fill="#111" stroke="#111" stroke-width="0.15" stroke-linejoin="round">0.1</text><path d="M287.1 145.7H289.9M287.1 168.5H289.9M287.1 191.3H289.9M287.1 214.1H289.9" stroke="#000" stroke-width="1.5"/><text transform="translate(316.5 221.1) scale(0.95 1)" font-size="4.9" text-anchor="middle" fill="#111" stroke="#111" stroke-width="0.22" stroke-linejoin="round">FH</text><text transform="translate(368.4 221.1) scale(0.95 1)" font-size="4.9" text-anchor="middle" fill="#111" stroke="#111" stroke-width="0.22" stroke-linejoin="round">FL</text><text x="316.5" y="229.1" font-size="5.2" text-anchor="middle" fill="#111" stroke="#111" stroke-width="0.2" stroke-linejoin="round">3.90</text><text x="368.4" y="229.1" font-size="5.2" text-anchor="middle" fill="#111" stroke="#111" stroke-width="0.2" stroke-linejoin="round">2.28</text><text x="344.3" y="225.4" font-size="5.2" text-anchor="middle" fill="#111" stroke="#111" stroke-width="0.2" stroke-linejoin="round"><tspan font-style="italic">P</tspan> = .0056</text><path d="M298 177.9H333.6" stroke="#777" stroke-width="1.2"/><path d="M350.8 182.9H386.2" stroke="#000" stroke-width="1.05"/><circle cx="315.9" cy="161.8" r="1.3"/><circle cx="320.2" cy="163" r="1.3"/><circle cx="315.9" cy="166.2" r="1.3"/><circle cx="307.4" cy="171.3" r="1.3"/><circle cx="320.2" cy="171.4" r="1.3"/><circle cx="303.1" cy="176.4" r="1.3"/><circle cx="307.4" cy="177.2" r="1.3"/><circle cx="311.8" cy="175.1" r="1.3"/><circle cx="315.9" cy="175.3" r="1.3"/><circle cx="317.6" cy="176.1" r="1.3"/><circle cx="311.8" cy="178.3" r="1.3"/><circle cx="315.9" cy="179" r="1.3"/><circle cx="320.2" cy="178" r="1.3"/><circle cx="324.2" cy="178" r="1.3"/><circle cx="328.5" cy="177.1" r="1.3"/><circle cx="311.8" cy="181.5" r="1.3"/><circle cx="307.4" cy="185.1" r="1.3"/><circle cx="311.8" cy="186.3" r="1.3"/><circle cx="315.9" cy="184.4" r="1.3"/><circle cx="315.9" cy="188.7" r="1.3"/><circle cx="320.2" cy="187.3" r="1.3"/><circle cx="324.2" cy="185.8" r="1.3"/><circle cx="328.5" cy="185.1" r="1.3"/><circle cx="368" cy="165" r="1.3"/><circle cx="364.1" cy="169.4" r="1.3"/><circle cx="368" cy="169.4" r="1.3"/><circle cx="372.5" cy="171.1" r="1.3"/><circle cx="368" cy="173.3" r="1.3"/><circle cx="370.7" cy="174.4" r="1.3"/><circle cx="355.5" cy="177" r="1.3"/><circle cx="359.8" cy="177.6" r="1.3"/><circle cx="364.1" cy="176" r="1.3"/><circle cx="380.7" cy="176" r="1.3"/><circle cx="364.1" cy="179.3" r="1.3"/><circle cx="367" cy="178.6" r="1.3"/><circle cx="369.6" cy="179.6" r="1.3"/><circle cx="372.2" cy="178.3" r="1.3"/><circle cx="374.8" cy="179.3" r="1.3"/><circle cx="377.4" cy="178" r="1.3"/><circle cx="355.5" cy="180.9" r="1.3"/><circle cx="359.8" cy="180.3" r="1.3"/><circle cx="380.7" cy="180.7" r="1.3"/><circle cx="364.1" cy="182.5" r="1.3"/><circle cx="368" cy="182" r="1.3"/><circle cx="371.6" cy="182.9" r="1.3"/><circle cx="375.5" cy="182.2" r="1.3"/><circle cx="378.1" cy="181.6" r="1.3"/><circle cx="355.5" cy="185.5" r="1.3"/><circle cx="355.5" cy="187.5" r="1.3"/><circle cx="355.5" cy="189" r="1.3"/><circle cx="359.8" cy="186.1" r="1.3"/><circle cx="359.8" cy="188.1" r="1.3"/><circle cx="359.8" cy="189.4" r="1.3"/><circle cx="364.1" cy="187.5" r="1.3"/><circle cx="364.1" cy="189" r="1.3"/><circle cx="364.1" cy="191.4" r="1.3"/><circle cx="364.1" cy="194.2" r="1.3"/><circle cx="367.6" cy="187.5" r="1.3"/><circle cx="370.3" cy="185.9" r="1.3"/><circle cx="372.2" cy="187.5" r="1.3"/><circle cx="374.8" cy="186.1" r="1.3"/><circle cx="377.4" cy="187.2" r="1.3"/><circle cx="380.7" cy="186.8" r="1.3"/><circle cx="380.7" cy="189" r="1.3"/><circle cx="368" cy="192.7" r="1.3"/><circle cx="372.5" cy="191.6" r="1.3"/><circle cx="376.8" cy="191.4" r="1.3"/><circle cx="368" cy="197.9" r="1.3"/><circle cx="372.5" cy="199" r="1.3"/><circle cx="359.4" cy="169.4" r="1.2" fill="#fff" stroke="#000" stroke-width="0.85"/><circle cx="372.5" cy="168.1" r="1.2" fill="#fff" stroke="#000" stroke-width="0.85"/><circle cx="368.6" cy="202.1" r="1.2" fill="#fff" stroke="#000" stroke-width="0.85"/></g>
<g><text x="4.26" y="246" font-size="11.8" fill="#000" stroke="#000" stroke-width="0.35" stroke-linejoin="round">H</text><text x="79.6" y="249.3" font-size="6.8" text-anchor="middle" fill="#111" stroke="#111" stroke-width="0.12" stroke-linejoin="round">IL-4</text><path d="M32.8 256.4V322.1H134" fill="none" stroke="#222" stroke-width="1.3"/><text x="29.6" y="258.75" font-size="5.2" text-anchor="end" fill="#111" stroke="#111" stroke-width="0.15" stroke-linejoin="round">100</text><text x="29.6" y="280.48" font-size="5.2" text-anchor="end" fill="#111" stroke="#111" stroke-width="0.15" stroke-linejoin="round">10</text><text x="29.6" y="302.22" font-size="5.2" text-anchor="end" fill="#111" stroke="#111" stroke-width="0.15" stroke-linejoin="round">1</text><text x="29.6" y="323.95" font-size="5.2" text-anchor="end" fill="#111" stroke="#111" stroke-width="0.15" stroke-linejoin="round">0.1</text><path d="M30 256.9H32.8M30 278.63H32.8M30 300.37H32.8M30 322.1H32.8" stroke="#000" stroke-width="1.5"/><text transform="translate(58.4 330.8) scale(0.95 1)" font-size="4.9" text-anchor="middle" fill="#111" stroke="#111" stroke-width="0.22" stroke-linejoin="round">FH</text><text transform="translate(110.7 330.8) scale(0.95 1)" font-size="4.9" text-anchor="middle" fill="#111" stroke="#111" stroke-width="0.22" stroke-linejoin="round">FL</text><text x="58.4" y="339" font-size="5.2" text-anchor="middle" fill="#111" stroke="#111" stroke-width="0.2" stroke-linejoin="round">1.19</text><text x="110.7" y="339" font-size="5.2" text-anchor="middle" fill="#111" stroke="#111" stroke-width="0.2" stroke-linejoin="round">5.08</text><text x="84.1" y="335.3" font-size="5.2" text-anchor="middle" fill="#111" stroke="#111" stroke-width="0.2" stroke-linejoin="round"><tspan font-style="italic">P</tspan> &lt; .0001</text><path d="M41.5 298.5H76.4" stroke="#000" stroke-width="1.05"/><path d="M93.2 285.4H127.9" stroke="#666" stroke-width="1.2"/><circle cx="54.6" cy="283" r="1.3"/><circle cx="59" cy="285.9" r="1.3"/><circle cx="50.3" cy="289.1" r="1.3"/><circle cx="54.6" cy="290.3" r="1.3"/><circle cx="59" cy="292.2" r="1.3"/><circle cx="62.9" cy="291" r="1.3"/><circle cx="67" cy="289.5" r="1.3"/><circle cx="67" cy="295.6" r="1.3"/><circle cx="46.3" cy="299.7" r="1.3"/><circle cx="50.3" cy="298" r="1.3"/><circle cx="50.3" cy="301.2" r="1.3"/><circle cx="54.6" cy="298.5" r="1.3"/><circle cx="54.6" cy="302.6" r="1.3"/><circle cx="59" cy="298.3" r="1.3"/><circle cx="59" cy="303.3" r="1.3"/><circle cx="61.2" cy="299.7" r="1.3"/><circle cx="62.9" cy="298" r="1.3"/><circle cx="62.9" cy="302.9" r="1.3"/><circle cx="67" cy="301.2" r="1.3"/><circle cx="71" cy="300" r="1.3"/><circle cx="59" cy="308.7" r="1.3"/><circle cx="62.9" cy="310.6" r="1.3"/><circle cx="59" cy="314.5" r="1.3"/><circle cx="106.6" cy="266.7" r="1.3"/><circle cx="106.6" cy="269.7" r="1.3"/><circle cx="110.6" cy="267.8" r="1.3"/><circle cx="114.6" cy="265.9" r="1.3"/><circle cx="110.6" cy="272.7" r="1.3"/><circle cx="114.6" cy="272.1" r="1.3"/><circle cx="118.7" cy="274.9" r="1.3"/><circle cx="102.1" cy="275.9" r="1.3"/><circle cx="98.1" cy="277.3" r="1.3"/><circle cx="102.1" cy="278.6" r="1.3"/><circle cx="106.6" cy="276.7" r="1.3"/><circle cx="110.6" cy="277.2" r="1.3"/><circle cx="114.6" cy="276.1" r="1.3"/><circle cx="123.1" cy="278.2" r="1.3"/><circle cx="106.6" cy="279.9" r="1.3"/><circle cx="110.6" cy="281.2" r="1.3"/><circle cx="114.2" cy="281.2" r="1.3"/><circle cx="118.7" cy="279.6" r="1.3"/><circle cx="118.7" cy="281.8" r="1.3"/><circle cx="98.1" cy="281.4" r="1.3"/><circle cx="102.1" cy="282.2" r="1.3"/><circle cx="114.2" cy="282.8" r="1.3"/><circle cx="114.2" cy="283.8" r="1.3"/><circle cx="123.1" cy="281.4" r="1.3"/><circle cx="106.6" cy="285" r="1.3"/><circle cx="110.6" cy="285.4" r="1.3"/><circle cx="118.7" cy="286.1" r="1.3"/><circle cx="118.7" cy="287" r="1.3"/><circle cx="97.8" cy="291.2" r="1.3"/><circle cx="97.8" cy="292.8" r="1.3"/><circle cx="102.2" cy="291.7" r="1.3"/><circle cx="102.2" cy="293.7" r="1.3"/><circle cx="106.1" cy="289.9" r="1.3"/><circle cx="106.1" cy="291.7" r="1.3"/><circle cx="106.1" cy="293.4" r="1.3"/><circle cx="106.1" cy="295.1" r="1.3"/><circle cx="110.5" cy="290.8" r="1.3"/><circle cx="112.6" cy="291.9" r="1.3"/><circle cx="114.8" cy="289.9" r="1.3"/><circle cx="116.1" cy="291.9" r="1.3"/><circle cx="122.9" cy="292.8" r="1.3"/><circle cx="118.7" cy="293.8" r="1.3"/><circle cx="110.5" cy="294.7" r="1.3"/><circle cx="114.8" cy="294.3" r="1.3"/><circle cx="114.8" cy="296.9" r="1.3"/><circle cx="110.5" cy="298.9" r="1.3"/><circle cx="110.5" cy="306" r="1.3"/><circle cx="110.5" cy="313.2" r="1.3"/><circle cx="114.8" cy="312" r="1.3"/><circle cx="118.7" cy="269.3" r="1.2" fill="#fff" stroke="#000" stroke-width="0.85"/><circle cx="120.5" cy="291.1" r="1.2" fill="#fff" stroke="#000" stroke-width="0.85"/><circle cx="106.1" cy="311.3" r="1.2" fill="#fff" stroke="#000" stroke-width="0.85"/><text transform="translate(10.9 293.9) rotate(-90)" font-size="3.8" text-anchor="middle" fill="#333" stroke="#333" stroke-width="0.06"><tspan x="0" y="0">Cytokine Concentration</tspan><tspan x="0" y="4.45">(pg/mg of total protein)</tspan></text></g>
<g><text x="138.36" y="245.6" font-size="11.8" fill="#000" stroke="#000" stroke-width="0.35" stroke-linejoin="round">I</text><text x="208.1" y="248.3" font-size="6.6" text-anchor="middle" fill="#111" stroke="#111" stroke-width="0.12" stroke-linejoin="round">IL-5</text><path d="M160.1 254.8V321.9H263.3" fill="none" stroke="#000" stroke-width="1.4"/><text x="156.9" y="257.15" font-size="5.2" text-anchor="end" fill="#111" stroke="#111" stroke-width="0.15" stroke-linejoin="round">10</text><text x="156.9" y="290.45" font-size="5.2" text-anchor="end" fill="#111" stroke="#111" stroke-width="0.15" stroke-linejoin="round">1</text><text x="156.9" y="323.75" font-size="5.2" text-anchor="end" fill="#111" stroke="#111" stroke-width="0.15" stroke-linejoin="round">0.1</text><path d="M157.3 255.3H160.1M157.3 288.6H160.1M157.3 321.9H160.1" stroke="#000" stroke-width="1.5"/><text transform="translate(186.2 330.7) scale(0.95 1)" font-size="4.9" text-anchor="middle" fill="#111" stroke="#111" stroke-width="0.22" stroke-linejoin="round">FH</text><text transform="translate(237.2 330.7) scale(0.95 1)" font-size="4.9" text-anchor="middle" fill="#111" stroke="#111" stroke-width="0.22" stroke-linejoin="round">FL</text><text x="186.2" y="338.6" font-size="5.2" text-anchor="middle" fill="#111" stroke="#111" stroke-width="0.2" stroke-linejoin="round">0.72</text><text x="237.2" y="338.6" font-size="5.2" text-anchor="middle" fill="#111" stroke="#111" stroke-width="0.2" stroke-linejoin="round">0.26</text><text x="212.8" y="334.9" font-size="5.2" text-anchor="middle" fill="#111" stroke="#111" stroke-width="0.2" stroke-linejoin="round"><tspan font-style="italic">P</tspan> &lt; .0001</text><path d="M168.1 293.5H203.5" stroke="#222" stroke-width="1.05"/><path d="M220 307.95H254" stroke="#000" stroke-width="1.05"/><circle cx="181.5" cy="269.6" r="1.3"/><circle cx="186.1" cy="270.1" r="1.3"/><circle cx="190.3" cy="272.2" r="1.3"/><circle cx="186.1" cy="275.7" r="1.3"/><circle cx="186.1" cy="285.3" r="1.3"/><circle cx="177.7" cy="287.9" r="1.3"/><circle cx="182.1" cy="288.8" r="1.3"/><circle cx="186.1" cy="291.1" r="1.3"/><circle cx="190.3" cy="289.3" r="1.3"/><circle cx="194.3" cy="287.9" r="1.3"/><circle cx="177.7" cy="292.8" r="1.3"/><circle cx="182.1" cy="293.5" r="1.3"/><circle cx="186.1" cy="294.9" r="1.3"/><circle cx="190.3" cy="292.8" r="1.3"/><circle cx="194.3" cy="292.3" r="1.3"/><circle cx="186.1" cy="301.5" r="1.3"/><circle cx="190.3" cy="300.5" r="1.3"/><circle cx="190.3" cy="302.2" r="1.3"/><circle cx="182.1" cy="304.5" r="1.3"/><circle cx="186.1" cy="305.7" r="1.3"/><circle cx="182.1" cy="307.5" r="1.3"/><circle cx="186.1" cy="311" r="1.3"/><circle cx="190.3" cy="311" r="1.3"/><circle cx="237.1" cy="291.9" r="1.3"/><circle cx="224.7" cy="295.6" r="1.3"/><circle cx="229" cy="297.6" r="1.3"/><circle cx="232.9" cy="298.8" r="1.3"/><circle cx="237.1" cy="299.1" r="1.3"/><circle cx="241.1" cy="297.9" r="1.3"/><circle cx="245.2" cy="297.4" r="1.3"/><circle cx="232.9" cy="301.9" r="1.3"/><circle cx="237.1" cy="302.8" r="1.3"/><circle cx="241.1" cy="302.1" r="1.3"/><circle cx="245.2" cy="301.3" r="1.3"/><circle cx="229" cy="304.7" r="1.3"/><circle cx="232.9" cy="305.1" r="1.3"/><circle cx="238.9" cy="304.4" r="1.3"/><circle cx="243.1" cy="304" r="1.3"/><circle cx="249.2" cy="305.3" r="1.3"/><circle cx="224.7" cy="306.6" r="1.3"/><circle cx="226.8" cy="307.9" r="1.3"/><circle cx="229" cy="306.6" r="1.3"/><circle cx="231" cy="307.9" r="1.3"/><circle cx="232.9" cy="306.6" r="1.3"/><circle cx="235.2" cy="307.9" r="1.3"/><circle cx="237.1" cy="306.6" r="1.3"/><circle cx="238.9" cy="307.9" r="1.3"/><circle cx="241.1" cy="306.6" r="1.3"/><circle cx="243.1" cy="307.9" r="1.3"/><circle cx="245.2" cy="306.6" r="1.3"/><circle cx="247.3" cy="307.9" r="1.3"/><circle cx="249.6" cy="306.8" r="1.3"/><circle cx="251.5" cy="307.9" r="1.3"/><circle cx="224.7" cy="309.5" r="1.3"/><circle cx="229" cy="309.5" r="1.3"/><circle cx="232.9" cy="310" r="1.3"/><circle cx="237.1" cy="309.4" r="1.3"/><circle cx="241.1" cy="309.7" r="1.3"/><circle cx="245.2" cy="309.5" r="1.3"/><circle cx="247.3" cy="310" r="1.3"/><circle cx="224.7" cy="312.3" r="1.3"/><circle cx="229" cy="312.8" r="1.3"/><circle cx="232.9" cy="311.9" r="1.3"/><circle cx="237.1" cy="312.1" r="1.3"/><circle cx="241.1" cy="312.3" r="1.3"/><circle cx="245.2" cy="312.8" r="1.3"/><circle cx="232.9" cy="315.1" r="1.3"/><circle cx="237.1" cy="315.6" r="1.3"/><circle cx="232.9" cy="317.9" r="1.3"/><circle cx="237.1" cy="320.2" r="1.3"/><circle cx="241.1" cy="319.6" r="1.3"/><circle cx="245.2" cy="317.7" r="1.3"/><circle cx="249.4" cy="295.1" r="1.2" fill="#fff" stroke="#000" stroke-width="0.85"/><circle cx="224.3" cy="303.5" r="1.2" fill="#fff" stroke="#000" stroke-width="0.85"/><circle cx="249.4" cy="312.1" r="1.2" fill="#fff" stroke="#000" stroke-width="0.85"/></g>
<g><text x="273.97" y="245.6" font-size="11.8" fill="#000" stroke="#000" stroke-width="0.35" stroke-linejoin="round">J</text><text x="343.7" y="247.1" font-size="6.5" text-anchor="middle" fill="#111" stroke="#111" stroke-width="0.12" stroke-linejoin="round">IL-13</text><path d="M293.5 251.7V320.5H389.8" fill="none" stroke="#000" stroke-width="1.35"/><text x="290.3" y="254.05" font-size="5.2" text-anchor="end" fill="#111" stroke="#111" stroke-width="0.15" stroke-linejoin="round">100</text><text x="290.3" y="276.82" font-size="5.2" text-anchor="end" fill="#111" stroke="#111" stroke-width="0.15" stroke-linejoin="round">10</text><text x="290.3" y="299.58" font-size="5.2" text-anchor="end" fill="#111" stroke="#111" stroke-width="0.15" stroke-linejoin="round">1</text><text x="290.3" y="322.35" font-size="5.2" text-anchor="end" fill="#111" stroke="#111" stroke-width="0.15" stroke-linejoin="round">0.1</text><path d="M290.7 252.2H293.5M290.7 274.97H293.5M290.7 297.73H293.5M290.7 320.5H293.5" stroke="#000" stroke-width="1.5"/><text transform="translate(318.4 329.2) scale(0.95 1)" font-size="4.9" text-anchor="middle" fill="#111" stroke="#111" stroke-width="0.22" stroke-linejoin="round">FH</text><text transform="translate(370.7 329.2) scale(0.95 1)" font-size="4.9" text-anchor="middle" fill="#111" stroke="#111" stroke-width="0.22" stroke-linejoin="round">FL</text><text x="318.4" y="337" font-size="5.2" text-anchor="middle" fill="#111" stroke="#111" stroke-width="0.2" stroke-linejoin="round">11.74</text><text x="370.7" y="337" font-size="5.2" text-anchor="middle" fill="#111" stroke="#111" stroke-width="0.2" stroke-linejoin="round">0.58</text><text x="343.9" y="333.8" font-size="5.2" text-anchor="middle" fill="#111" stroke="#111" stroke-width="0.2" stroke-linejoin="round"><tspan font-style="italic">P</tspan> &lt; .001</text><path d="M301.8 272.9H335.9" stroke="#000" stroke-width="1.05"/><path d="M353.1 303.3H388.7" stroke="#000" stroke-width="1.05"/><circle cx="322.8" cy="256.8" r="1.3"/><circle cx="318.8" cy="260.1" r="1.3"/><circle cx="314.4" cy="262.3" r="1.3"/><circle cx="318.8" cy="264.9" r="1.3"/><circle cx="318.8" cy="269.6" r="1.3"/><circle cx="322.8" cy="269.6" r="1.3"/><circle cx="306.1" cy="272" r="1.3"/><circle cx="310" cy="272.5" r="1.3"/><circle cx="314.4" cy="273.2" r="1.3"/><circle cx="318.8" cy="273.2" r="1.3"/><circle cx="322.8" cy="272.5" r="1.3"/><circle cx="327.2" cy="272.5" r="1.3"/><circle cx="331.2" cy="271.5" r="1.3"/><circle cx="314.6" cy="275.8" r="1.3"/><circle cx="319" cy="274.7" r="1.3"/><circle cx="322.9" cy="275.1" r="1.3"/><circle cx="327" cy="275.5" r="1.3"/><circle cx="314.6" cy="280.9" r="1.3"/><circle cx="319" cy="279" r="1.3"/><circle cx="322.9" cy="278" r="1.3"/><circle cx="322.9" cy="279.9" r="1.3"/><circle cx="314.6" cy="284.2" r="1.3"/><circle cx="319" cy="283.4" r="1.3"/><circle cx="322.9" cy="285.3" r="1.3"/><circle cx="319" cy="288.6" r="1.3"/><circle cx="371" cy="260.2" r="1.3"/><circle cx="371" cy="269.7" r="1.3"/><circle cx="366.6" cy="279.9" r="1.3"/><circle cx="370.9" cy="283.1" r="1.3"/><circle cx="374.9" cy="283.1" r="1.3"/><circle cx="374.9" cy="286.4" r="1.3"/><circle cx="366.6" cy="288" r="1.3"/><circle cx="370.9" cy="288.4" r="1.3"/><circle cx="362.4" cy="290.6" r="1.3"/><circle cx="370.9" cy="294.3" r="1.3"/><circle cx="374.9" cy="293.7" r="1.3"/><circle cx="379.1" cy="291.2" r="1.3"/><circle cx="358.1" cy="297.7" r="1.3"/><circle cx="362.4" cy="298.9" r="1.3"/><circle cx="366.6" cy="299.2" r="1.3"/><circle cx="370.9" cy="299.2" r="1.3"/><circle cx="374.9" cy="298.9" r="1.3"/><circle cx="379.1" cy="298.2" r="1.3"/><circle cx="381.3" cy="300.4" r="1.3"/><circle cx="358.1" cy="302.8" r="1.3"/><circle cx="362.4" cy="302.2" r="1.3"/><circle cx="364.8" cy="301.6" r="1.3"/><circle cx="366.6" cy="303.4" r="1.3"/><circle cx="369.1" cy="301.9" r="1.3"/><circle cx="370.9" cy="303.1" r="1.3"/><circle cx="373.3" cy="301.9" r="1.3"/><circle cx="375.8" cy="303.4" r="1.3"/><circle cx="378.2" cy="302.2" r="1.3"/><circle cx="381.3" cy="303.4" r="1.3"/><circle cx="383.7" cy="302.8" r="1.3"/><circle cx="358.1" cy="307.1" r="1.3"/><circle cx="362.4" cy="306.5" r="1.3"/><circle cx="366.6" cy="305.5" r="1.3"/><circle cx="370.9" cy="305.3" r="1.3"/><circle cx="373.3" cy="305.9" r="1.3"/><circle cx="375.8" cy="305.3" r="1.3"/><circle cx="378.2" cy="305.9" r="1.3"/><circle cx="381.3" cy="306.2" r="1.3"/><circle cx="383.7" cy="306.7" r="1.3"/><circle cx="362.4" cy="309.5" r="1.3"/><circle cx="366.6" cy="308.9" r="1.3"/><circle cx="370.9" cy="309.5" r="1.3"/><circle cx="374.9" cy="308.7" r="1.3"/><circle cx="379.1" cy="308" r="1.3"/><circle cx="383.5" cy="308.7" r="1.3"/><circle cx="362.4" cy="311.6" r="1.3"/><circle cx="366.6" cy="312.6" r="1.3"/><circle cx="370.9" cy="312.3" r="1.3"/><circle cx="374.9" cy="311.4" r="1.3"/><circle cx="379.1" cy="311.6" r="1.3"/><circle cx="383.5" cy="310.8" r="1.3"/><circle cx="370.9" cy="314" r="1.3"/><circle cx="374.9" cy="313.8" r="1.3"/><circle cx="366.3" cy="266.7" r="1.2" fill="#fff" stroke="#000" stroke-width="0.85"/><circle cx="366.6" cy="292.1" r="1.2" fill="#fff" stroke="#000" stroke-width="0.85"/><circle cx="358.1" cy="310.1" r="1.2" fill="#fff" stroke="#000" stroke-width="0.85"/></g>
</svg></body></html>
